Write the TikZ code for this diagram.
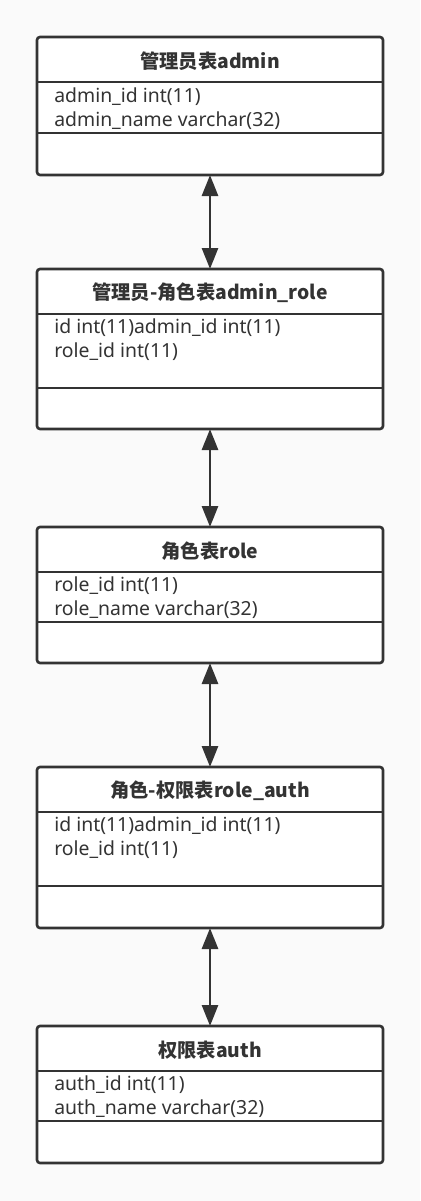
\documentclass[tikz,border=0pt]{standalone}
\usepackage{fontspec}
\setmainfont{Noto Sans CJK SC}
\newfontfamily\fieldfont{Noto Sans}
\usetikzlibrary{arrows.meta}
\definecolor{ink}{HTML}{333333}
\definecolor{paper}{HTML}{FAFAFA}

\begin{document}
\begin{tikzpicture}[x=1pt,y=-1pt,<->,>={Triangle[width=16pt,length=21pt]},line width=2.6pt,ink,
  table/.style={rectangle,draw=ink,fill=white,rounded corners=3pt,minimum width=346pt,outer sep=0pt,inner sep=0pt},
  title/.style={font=\fontsize{19.3}{22}\selectfont\bfseries,text=ink},
  field/.style={anchor=west,font=\fieldfont\fontsize{19.4}{22}\selectfont,text=ink,inner sep=0pt}]
  \fill[paper] (0,0) rectangle (420,1201);
  \useasboundingbox (0,0) rectangle (420,1201);

  \node[table,minimum height=138pt] (admin) at (210,106) {};
  \node[table,minimum height=160pt] (adminrole) at (210,349) {};
  \node[table,minimum height=136pt] (role) at (210,595) {};
  \node[table,minimum height=161pt] (roleauth) at (210,847.5) {};
  \node[table,minimum height=137pt] (auth) at (210,1094.5) {};

  \node[title] (t1) at (210,61) {管理员表admin};
  \node[title] (t2) at (210,293) {管理员-角色表admin\_role};
  \node[title] (t3) at (210,551) {角色表role};
  \node[title] (t4) at (210,791) {角色-权限表role\_auth};
  \node[title] (t5) at (210,1050) {权限表auth};

  \node[field] (f11) at (53,97) {admin\_id int(11)};
  \node[field] (f12) at (53,121) {admin\_name varchar(32)};
  \node[field] (f21) at (53,328) {id int(11)admin\_id int(11)};
  \node[field] (f22) at (53,352) {role\_id int(11)};
  \node[field] (f31) at (53,586) {role\_id int(11)};
  \node[field] (f32) at (53,610) {role\_name varchar(32)};
  \node[field] (f41) at (53,826) {id int(11)admin\_id int(11)};
  \node[field] (f42) at (53,850) {role\_id int(11)};
  \node[field] (f51) at (53,1085) {auth\_id int(11)};
  \node[field] (f52) at (53,1109) {auth\_name varchar(32)};

  % dividers
  \begin{scope}[-]
  \draw (admin.west |- 0,82) -- (admin.east |- 0,82);
  \draw (admin.west |- 0,133) -- (admin.east |- 0,133);
  \draw (adminrole.west |- 0,314) -- (adminrole.east |- 0,314);
  \draw (adminrole.west |- 0,388) -- (adminrole.east |- 0,388);
  \draw (role.west |- 0,572) -- (role.east |- 0,572);
  \draw (role.west |- 0,622) -- (role.east |- 0,622);
  \draw (roleauth.west |- 0,812) -- (roleauth.east |- 0,812);
  \draw (roleauth.west |- 0,886) -- (roleauth.east |- 0,886);
  \draw (auth.west |- 0,1071) -- (auth.east |- 0,1071);
  \draw (auth.west |- 0,1121) -- (auth.east |- 0,1121);
  \end{scope}

  \draw (admin.south) -- (adminrole.north);
  \draw (adminrole.south) -- (role.north);
  \draw (role.south) -- (roleauth.north);
  \draw (roleauth.south) -- (auth.north);
\end{tikzpicture}
\end{document}
